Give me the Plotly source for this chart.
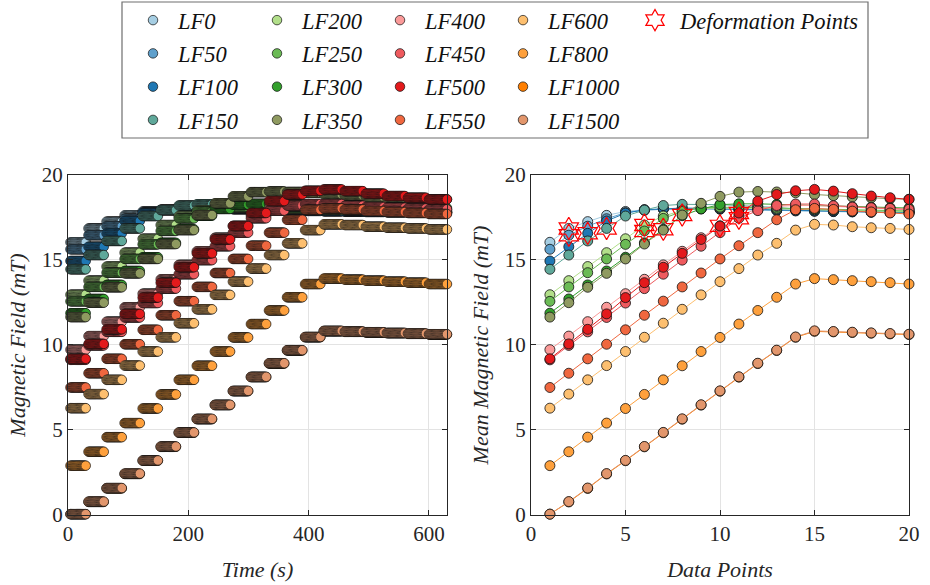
import plotly.graph_objects as go

# ---- data -----------------------------------------------------------------
series_names = ["LF0", "LF50", "LF100", "LF150",
                "LF200", "LF250", "LF300", "LF350",
                "LF400", "LF450", "LF500", "LF550",
                "LF600", "LF800", "LF1000", "LF1500"]

series_colors = ["#a6cee3", "#5fa0cc", "#1f78b4", "#5fa89a",
                 "#b2df8a", "#6bbb55", "#33a02c", "#8f9a60",
                 "#fb9a99", "#ee5a5e", "#e31a1c", "#f0673f",
                 "#fdbf6f", "#fea03c", "#ff7f00", "#e2966c"]

data_points = list(range(1, 21))

lf0 = [16.03, 16.85, 17.25, 17.62, 17.85, 17.95, 18.00, 18.02, 18.02, 18.00,
       17.98, 17.95, 17.92, 17.90, 17.88, 17.86, 17.84, 17.82, 17.80, 17.78]
lf50 = [15.62, 16.45, 16.98, 17.42, 17.78, 17.92, 17.98, 18.00, 18.00, 17.98,
        17.96, 17.94, 17.91, 17.88, 17.86, 17.84, 17.82, 17.80, 17.78, 17.76]
lf100 = [14.93, 15.77, 16.56, 17.29, 17.75, 17.95, 18.02, 18.05, 18.04, 18.02,
         18.00, 17.97, 17.94, 17.91, 17.88, 17.86, 17.84, 17.82, 17.80, 17.78]
lf150 = [14.44, 15.28, 16.11, 16.85, 17.58, 17.93, 18.20, 18.27, 18.28, 18.25,
         18.20, 18.15, 18.08, 18.00, 17.95, 17.92, 17.88, 17.85, 17.82, 17.80]
lf200 = [12.94, 13.77, 14.60, 15.42, 16.24, 17.05, 17.58, 17.90, 18.02, 18.05,
         18.05, 18.03, 18.00, 17.97, 17.95, 17.93, 17.90, 17.88, 17.86, 17.84]
lf250 = [12.55, 13.40, 14.24, 15.05, 15.91, 16.70, 17.44, 17.85, 18.05, 18.10,
         18.10, 18.08, 18.05, 18.02, 18.00, 17.97, 17.95, 17.92, 17.90, 17.88]
lf300 = [11.85, 12.69, 13.52, 14.34, 15.15, 16.00, 16.80, 17.60, 18.00, 18.25,
         18.30, 18.30, 18.27, 18.22, 18.18, 18.15, 18.12, 18.10, 18.07, 18.05]
lf350 = [11.62, 12.47, 13.38, 14.20, 15.05, 15.93, 16.75, 17.64, 18.33, 18.74,
         18.99, 19.03, 19.00, 18.95, 18.85, 18.78, 18.70, 18.65, 18.60, 18.57]
lf400 = [9.70, 10.50, 11.35, 12.20, 13.00, 13.85, 14.70, 15.50, 16.30, 17.00,
         17.60, 18.00, 18.15, 18.20, 18.20, 18.15, 18.10, 18.05, 18.00, 17.95]
lf450 = [9.10, 9.95, 10.75, 11.60, 12.45, 13.30, 14.15, 14.98, 15.80, 16.60,
         17.45, 17.90, 18.20, 18.29, 18.29, 18.19, 18.11, 18.07, 18.03, 17.98]
lf500 = [9.16, 10.04, 10.90, 11.81, 12.77, 13.65, 14.56, 15.38, 16.20, 16.99,
         17.76, 18.46, 18.85, 19.07, 19.15, 19.05, 18.90, 18.76, 18.66, 18.56]
lf550 = [7.47, 8.31, 9.16, 10.02, 10.87, 11.73, 12.56, 13.40, 14.22, 15.05,
         15.83, 16.60, 17.36, 17.95, 18.03, 17.97, 17.87, 17.82, 17.76, 17.70]
lf600 = [6.25, 7.08, 7.92, 8.76, 9.59, 10.43, 11.26, 12.08, 12.93, 13.71,
         14.48, 15.28, 15.97, 16.75, 17.09, 17.05, 16.95, 16.89, 16.85, 16.79]
lf800 = [2.86, 3.68, 4.54, 5.37, 6.23, 7.06, 7.92, 8.75, 9.59, 10.42,
         11.21, 12.01, 12.79, 13.57, 13.89, 13.83, 13.77, 13.71, 13.65, 13.57]
lf1000 = [0.00, 0.72, 1.52, 2.37, 3.15, 3.97, 4.80, 5.60, 6.43, 7.25,
          8.08, 8.88, 9.65, 10.43, 10.78, 10.75, 10.71, 10.67, 10.63, 10.59]
lf1500 = [0.00, 0.74, 1.54, 2.39, 3.17, 3.99, 4.82, 5.62, 6.45, 7.27,
          8.10, 8.90, 9.67, 10.45, 10.81, 10.77, 10.73, 10.69, 10.65, 10.61]

series_values = [lf0, lf50, lf100, lf150, lf200, lf250, lf300, lf350,
                 lf400, lf450, lf500, lf550, lf600, lf800, lf1000, lf1500]

# recording window (s) of each data point in the time record
block_start = [4, 34, 64, 94, 124, 154, 184, 214, 244, 274, 304, 334, 364, 394,
               425, 460, 495, 530, 565, 600]
block_end = [30, 60, 90, 120, 150, 180, 210, 240, 270, 300, 330, 360, 390, 420,
             455, 490, 525, 560, 595, 630]
sample_step = 1.5

# deformation points (data point, mean field)
deform_x = [2, 2, 3, 4, 6, 6, 7, 8, 10, 11, 11]
deform_y = [16.85, 16.45, 16.56, 16.85, 17.05, 16.70, 16.80, 17.64, 17.00, 17.45, 17.76]

# ---- figure ---------------------------------------------------------------
FONT = "Liberation Serif"
legend_ids = ["legend"] * 4 + ["legend2"] * 4 + ["legend3"] * 4 + ["legend4"] * 4

fig = go.Figure()

# time record (left panel); these marker-only traces also feed the legend
for name, color, vals, leg in zip(series_names, series_colors, series_values, legend_ids):
    t, v = [], []
    for m, s, e in zip(vals, block_start, block_end):
        n = int(round((e - s) / sample_step)) + 1
        for i in range(n):
            t.append(s + i * sample_step)
            v.append(m)
    fig.add_trace(go.Scatter(
        x=t, y=v, mode="markers", xaxis="x", yaxis="y",
        marker=dict(size=9.5, color=color, line=dict(color="#111111", width=0.7)),
        showlegend=True, legendgroup=name, legend=leg, name=name, cliponaxis=False,
    ))

# mean per data point (right panel)
for name, color, vals in zip(series_names, series_colors, series_values):
    fig.add_trace(go.Scatter(
        x=data_points, y=vals, mode="lines+markers", xaxis="x2", yaxis="y2",
        line=dict(color=color, width=1),
        marker=dict(size=10, color=color, line=dict(color="#111111", width=0.8)),
        name=name, legendgroup=name, showlegend=False, cliponaxis=False,
    ))

fig.add_trace(go.Scatter(
    x=deform_x, y=deform_y, mode="markers", xaxis="x2", yaxis="y2",
    marker=dict(symbol="hexagram-open", size=17, color="red", line=dict(color="red", width=1.2)),
    name="Deformation Points", legendgroup="deform", legend="legend5", cliponaxis=False,
))

axis_common = dict(
    showline=True, mirror="allticks", linecolor="#262626", linewidth=1,
    ticks="inside", ticklen=5, tickcolor="#262626",
    showgrid=True, gridcolor="#e3e3e3", gridwidth=1, zeroline=False,
    tickfont=dict(family=FONT, size=21, color="#262626"),
    automargin=False,
)
title_font = dict(family=FONT, size=22, color="#262626", style="italic")

fig.update_layout(
    width=930, height=585,
    margin=dict(l=0, r=0, t=0, b=0, autoexpand=False),
    paper_bgcolor="white", plot_bgcolor="white",
    xaxis=dict(domain=[68 / 930, 447 / 930], range=[0, 630], tickvals=[0, 200, 400, 600],
               title=dict(text="Time (s)", font=title_font, standoff=16), anchor="y", **axis_common),
    yaxis=dict(domain=[70 / 585, 410 / 585], range=[-0.05, 20], tickvals=[0, 5, 10, 15, 20],
               title=dict(text="Magnetic Field (mT)", font=title_font, standoff=10), anchor="x", **axis_common),
    xaxis2=dict(domain=[531 / 930, 909 / 930], range=[0, 20], tickvals=[0, 5, 10, 15, 20],
                title=dict(text="Data Points", font=title_font, standoff=16), anchor="y2", **axis_common),
    yaxis2=dict(domain=[70 / 585, 410 / 585], range=[-0.05, 20], tickvals=[0, 5, 10, 15, 20],
                title=dict(text="Mean Magnetic Field (mT)", font=title_font, standoff=10), anchor="x2", **axis_common),
)

legend_font = dict(family=FONT, size=22.5, color="#111111", style="italic")
legend_x = [128, 252, 375, 498, 630]
for i, lid in enumerate(["legend", "legend2", "legend3", "legend4", "legend5"]):
    fig.update_layout({lid: dict(
        x=legend_x[i] / 930, y=1 + 1 / 585, xanchor="left", yanchor="top",
        orientation="v", bgcolor="rgba(0,0,0,0)", borderwidth=0, itemwidth=40,
        font=legend_font, tracegroupgap=1, itemclick=False, itemdoubleclick=False,
    )})

fig.add_shape(type="rect", xref="paper", yref="paper",
              x0=122 / 930, x1=868 / 930, y0=1 - 138 / 585, y1=1 - 2 / 585,
              line=dict(color="#6e6e6e", width=1.2), fillcolor="rgba(0,0,0,0)", layer="below")

fig.write_html("out.html")
